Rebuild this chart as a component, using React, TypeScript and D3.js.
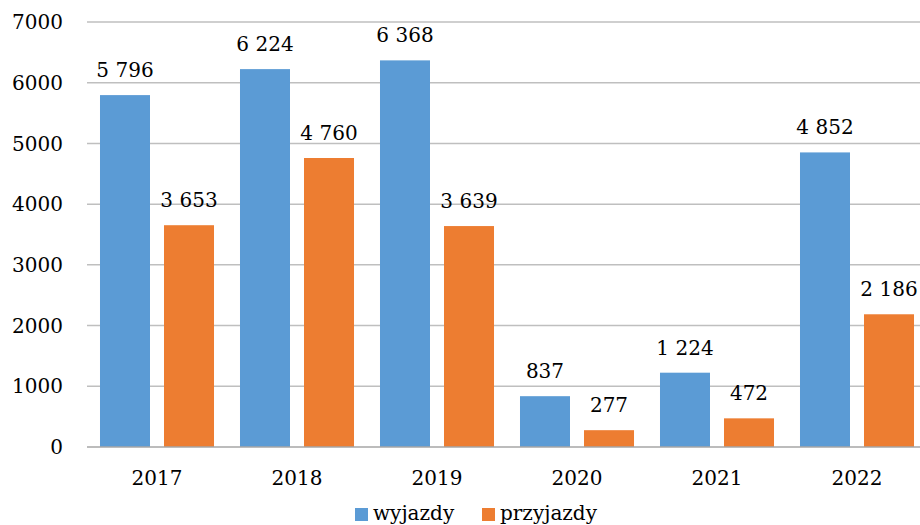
import { scaleBand, scaleLinear, format } from 'd3'

const years = ['2017', '2018', '2019', '2020', '2021', '2022']
const wyjazdy = [5796, 6224, 6368, 837, 1224, 4852]
const przyjazdy = [3653, 4760, 3639, 277, 472, 2186]
const yTicks = [0, 1000, 2000, 3000, 4000, 5000, 6000, 7000]

const series = [
  { name: 'wyjazdy', values: wyjazdy, color: '#5b9bd5' },
  { name: 'przyjazdy', values: przyjazdy, color: '#ed7d31' },
]

const width = 920
const height = 525
const plot = { left: 87, right: 927, top: 22, bottom: 447 }
const font = '"DejaVu Serif", serif'

const fmt = (v: number) => format(',')(v).replace(/,/g, ' ')

const App = () => {
  const x = scaleBand<string>().domain(years).range([plot.left, plot.right])
  const inner = scaleBand<string>()
    .domain(series.map((s) => s.name))
    .range([0, x.bandwidth()])
    .paddingInner(0.21875)
    .paddingOuter(0.203)
  const y = scaleLinear().domain([0, 7000]).range([plot.bottom, plot.top])

  return (
    <div style={{ position: 'fixed', left: 0, top: 0 }}>
      <svg width={width} height={height} style={{ display: 'block', background: '#fff' }} fontFamily={font}>
        {yTicks.map((t) => (
          <g key={t}>
            {t > 0 && (
              <line x1={plot.left} x2={width} y1={y(t)} y2={y(t)} stroke="#bfbfbf" strokeWidth={1.5} />
            )}
            <text x={63} y={y(t)} dy="0.36em" textAnchor="end" fontSize={20} fill="#000">
              {t}
            </text>
          </g>
        ))}

        {series.map((s) =>
          s.values.map((v, i) => {
            const bx = (x(years[i]) ?? 0) + (inner(s.name) ?? 0)
            return (
              <g key={s.name + i}>
                <rect x={bx} y={y(v)} width={inner.bandwidth()} height={y(0) - y(v)} fill={s.color} />
                <text x={bx + inner.bandwidth() / 2} y={y(v) - 18} textAnchor="middle" fontSize={20} fill="#000">
                  {fmt(v)}
                </text>
              </g>
            )
          }),
        )}

        <line x1={plot.left} x2={width} y1={y(0)} y2={y(0)} stroke="#a6a6a6" strokeWidth={1.5} />

        {years.map((yr) => (
          <text
            key={yr}
            x={(x(yr) ?? 0) + x.bandwidth() / 2}
            y={485}
            textAnchor="middle"
            fontSize={20}
            fill="#000"
          >
            {yr}
          </text>
        ))}

        <g>
          <rect x={355} y={508} width={13} height={13} fill={series[0].color} />
          <text x={373} y={520} fontSize={20} fill="#000">
            {series[0].name}
          </text>
          <rect x={482} y={508} width={13} height={13} fill={series[1].color} />
          <text x={500} y={520} fontSize={20} fill="#000">
            {series[1].name}
          </text>
        </g>
      </svg>
    </div>
  )
}

export default App
